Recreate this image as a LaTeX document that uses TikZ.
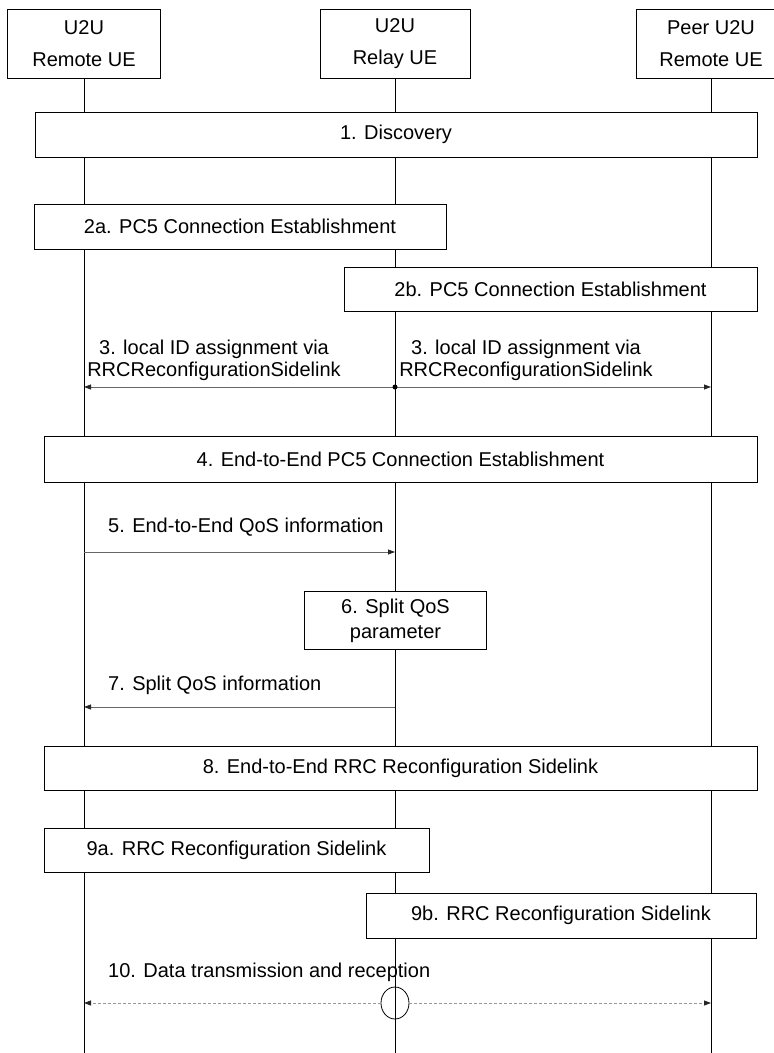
\documentclass[tikz,border=0pt]{standalone}
\usepackage{fontspec}
\setmainfont{Liberation Sans}
\usetikzlibrary{arrows.meta,shapes.geometric}
\begin{document}
\begin{tikzpicture}[x=1pt,y=-1pt,
  txt/.style={font=\fontsize{20}{22}\selectfont, inner sep=0pt},
  box/.style={draw, fill=white, line width=0.8pt, font=\fontsize{20}{24}\selectfont, inner sep=0pt},
  head/.style={box, minimum width=150pt, minimum height=69pt, align=center, font=\fontsize{20}{32}\selectfont},
  life/.style={line width=0.7pt},
  msg/.style={line width=0.8pt, draw=black!60, -{Triangle[length=7pt,width=5pt,color=black!85]}},
  dmsg/.style={line width=0.8pt, draw=black!40, dash pattern=on 3pt off 2pt, -{Triangle[length=7pt,width=5pt,color=black!85]}}
]
\useasboundingbox (0,0) rectangle (774,1053);
\clip (0,0) rectangle (774,1053);

% headers
\node[head, minimum width=153pt] (A) at (84,43.5) {U2U\\Remote UE};
\node[head] (B) at (395,43.5) {U2U\\Relay UE};
\node[head] (C) at (711,43.5) {Peer U2U\\Remote UE};

% lifelines
\coordinate (Aend) at (84,1053);
\coordinate (Bend) at (395,1053);
\coordinate (Cend) at (711,1053);
\draw[life] (A) -- (Aend);
\draw[life] (B) -- (Bend);
\draw[life] (C) -- (Cend);

% 1
\node[box, minimum width=722pt, minimum height=45pt] (s1) at (396,134.5) {1. Discovery};
% 2a, 2b
\node[box, minimum width=412pt, minimum height=45pt] (s2a) at (240,226.5) {2a. PC5 Connection Establishment};
\node[box, minimum width=413pt, minimum height=44pt] (s2b) at (550.5,289) {2b. PC5 Connection Establishment};

% 3
\coordinate (d3) at (395,387);
\coordinate (a3) at (84,387);
\coordinate (c3) at (711,387);
\draw[msg] (d3) -- (a3);
\draw[msg] (d3) -- (c3);
\fill (d3) circle (2.5);
\node[txt, align=center] (t3l) at (214,360) {3. local ID assignment via\\RRCReconfigurationSidelink};
\node[txt, align=center] (t3r) at (526,360) {3. local ID assignment via\\RRCReconfigurationSidelink};

% 4
\node[box, minimum width=713pt, minimum height=46pt] (s4) at (400.5,459) {4. End-to-End PC5 Connection Establishment};

% 5
\coordinate (a5) at (84,552);
\coordinate (b5) at (395,552);
\draw[msg] (a5) -- (b5);
\node[txt, anchor=base west] (t5) at (108,532) {5. End-to-End QoS information};

% 6
\node[box, minimum width=182pt, minimum height=58pt, align=center, font=\fontsize{20}{25}\selectfont] (s6) at (395.5,620.5) {6. Split QoS\\parameter};

% 7
\coordinate (a7) at (84,707);
\coordinate (b7) at (395,707);
\draw[msg] (b7) -- (a7);
\node[txt, anchor=base west] (t7) at (108,690) {7. Split QoS information};

% 8
\node[box, minimum width=713pt, minimum height=44pt] (s8) at (400.5,768) {8. End-to-End RRC Reconfiguration Sidelink};
% 9a, 9b
\node[box, minimum width=385pt, minimum height=44pt] (s9a) at (236.5,850) {9a. RRC Reconfiguration Sidelink};
\node[box, minimum width=390pt, minimum height=45pt] (s9b) at (561,915.5) {9b. RRC Reconfiguration Sidelink};

% 10
\node[draw, ellipse, line width=0.8pt, minimum width=28pt, minimum height=32pt, inner sep=0pt] (o10) at (395,1003) {};
\coordinate (a10) at (84,1003);
\coordinate (c10) at (711,1003);
\draw[dmsg] (o10.west) -- (a10);
\draw[dmsg] (o10.east) -- (c10);
\node[txt, anchor=base west] (t10) at (108,977) {10. Data transmission and reception};
\end{tikzpicture}
\end{document}
